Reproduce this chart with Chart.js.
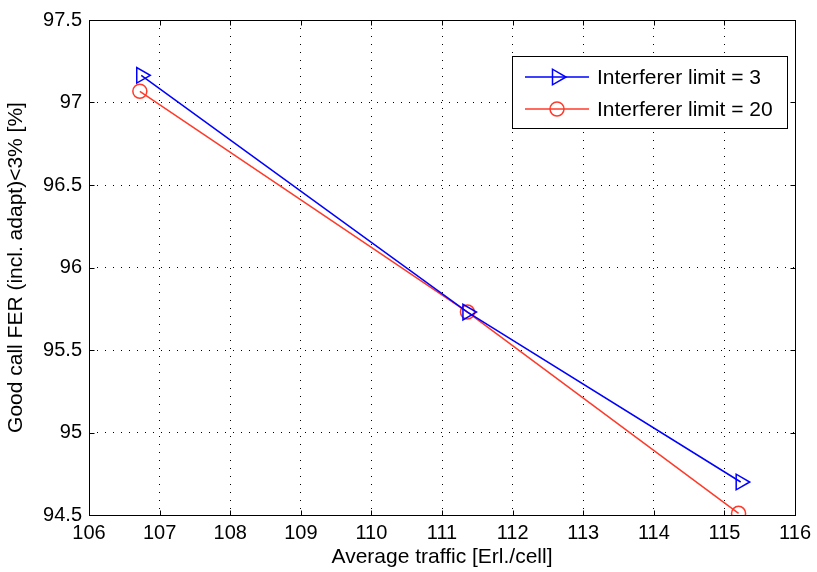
<!DOCTYPE html>
<html><head><meta charset="utf-8">
<script src="https://cdn.jsdelivr.net/npm/chart.js@4/dist/chart.umd.min.js"></script>
<style>html,body{margin:0;padding:0;background:#fff}#wrap{width:817px;height:572px}</style>
</head><body><div id="wrap"><canvas id="c" width="817" height="572"></canvas></div>
<script>
// ---- data ----
const trafficLimit3 = [106.74, 111.36, 115.23];
const goodCallLimit3 = [97.165, 95.73, 94.70];
const trafficLimit20 = [106.72, 111.36, 115.20];
const goodCallLimit20 = [97.068, 95.73, 94.51];
const seriesLabels = ['Interferer limit = 3', 'Interferer limit = 20'];
const xTickBounds = [106, 116];
const xTickStep = 1;
const yTickBounds = [94.5, 97.5];
const yTickStep = 0.5;
const xAxisTitle = 'Average traffic [Erl./cell]';
const yAxisTitle = 'Good call FER (incl. adapt)<3% [%]';

const FONT = '"Liberation Sans", Arial, Helvetica, sans-serif';
const BLUE = '#0000ff';
const RED = '#ff3a2a';

function pts(xs, ys) { return xs.map((x, i) => ({x: x, y: ys[i]})); }

function drawMarker(ctx, style, x, y, r, color, lw) {
  ctx.save();
  ctx.strokeStyle = color; ctx.lineWidth = lw;
  ctx.beginPath();
  if (style === 'circle') {
    ctx.arc(x, y, r, 0, Math.PI * 2);
  } else {
    let rad = Math.PI / 2;
    ctx.moveTo(x + Math.sin(rad) * r, y - Math.cos(rad) * r);
    rad += 2 * Math.PI / 3;
    ctx.lineTo(x + Math.sin(rad) * r, y - Math.cos(rad) * r);
    rad += 2 * Math.PI / 3;
    ctx.lineTo(x + Math.sin(rad) * r, y - Math.cos(rad) * r);
    ctx.closePath();
  }
  ctx.stroke();
  ctx.restore();
}

const framePlugin = {
  id: 'matlabFrame',
  afterDatasetsDraw(chart) {
    const ctx = chart.ctx;
    const a = chart.chartArea;
    const L = Math.round(a.left) + 0.5, R = Math.round(a.right) + 0.5;
    const T = Math.round(a.top) + 0.5, B = Math.round(a.bottom) + 0.5;
    ctx.save();
    ctx.strokeStyle = '#000';
    ctx.lineWidth = 1;
    ctx.strokeRect(L, T, R - L, B - T);
    const tl = 5;
    ctx.beginPath();
    const xs = chart.scales.x, ys = chart.scales.y;
    xs.ticks.forEach(t => {
      const px = Math.round(xs.getPixelForValue(t.value)) + 0.5;
      ctx.moveTo(px, B); ctx.lineTo(px, B - tl);
      ctx.moveTo(px, T); ctx.lineTo(px, T + tl);
    });
    ys.ticks.forEach(t => {
      const py = Math.round(ys.getPixelForValue(t.value)) + 0.5;
      ctx.moveTo(L, py); ctx.lineTo(L + tl, py);
      ctx.moveTo(R, py); ctx.lineTo(R - tl, py);
    });
    ctx.stroke();

    // legend box
    const bx = 512.5, by = 56.5, bw = 275, bh = 72;
    ctx.fillStyle = '#fff';
    ctx.fillRect(bx, by, bw, bh);
    ctx.strokeRect(bx, by, bw, bh);
    ctx.font = '21px ' + FONT;
    ctx.textBaseline = 'middle';
    ctx.textAlign = 'left';
    chart.data.datasets.forEach((ds, i) => {
      const cy = 77 + i * 32;
      ctx.strokeStyle = ds.borderColor;
      ctx.lineWidth = 1.5;
      ctx.beginPath();
      ctx.moveTo(525, cy); ctx.lineTo(589, cy);
      ctx.stroke();
      drawMarker(ctx, ds.pointStyle, 557, cy, ds.pointRadius, ds.borderColor, 1.5);
      ctx.fillStyle = '#000';
      ctx.fillText(ds.label, 597, cy + 1);
    });
    ctx.restore();
  }
};

const chart = new Chart(document.getElementById('c'), {
  type: 'line',
  data: {
    datasets: [
      {
        label: seriesLabels[0],
        data: pts(trafficLimit3, goodCallLimit3),
        borderColor: BLUE, backgroundColor: 'rgba(0,0,0,0)',
        borderWidth: 1.5, tension: 0, fill: false,
        pointStyle: 'triangle', pointRotation: 90, pointRadius: 9,
        pointBorderWidth: 1.5, pointBorderColor: BLUE, pointBackgroundColor: 'rgba(0,0,0,0)'
      },
      {
        label: seriesLabels[1],
        data: pts(trafficLimit20, goodCallLimit20),
        borderColor: RED, backgroundColor: 'rgba(0,0,0,0)',
        borderWidth: 1.5, tension: 0, fill: false,
        pointStyle: 'circle', pointRadius: 7,
        pointBorderWidth: 1.5, pointBorderColor: RED, pointBackgroundColor: 'rgba(0,0,0,0)'
      }
    ]
  },
  options: {
    responsive: false,
    animation: false,
    events: [],
    layout: { padding: { top: 20, right: 21, left: 0, bottom: 0 } },
    plugins: { legend: { display: false }, tooltip: { enabled: false } },
    scales: {
      x: {
        type: 'linear',
        min: xTickBounds[0], max: xTickBounds[1],
        ticks: { stepSize: xTickStep, color: '#000', padding: 6, font: { family: FONT, size: 20 }, maxRotation: 0,
                 callback: v => String(v) },
        grid: { color: '#000', lineWidth: 1, drawTicks: false },
        border: { display: false, dash: [1, 7] },
        title: { display: true, text: xAxisTitle, color: '#000', font: { family: FONT, size: 21 }, padding: { top: 0, bottom: 2 } },
        afterFit(s) { s.height = 57; }
      },
      y: {
        type: 'linear',
        min: yTickBounds[0], max: yTickBounds[1],
        ticks: { stepSize: yTickStep, color: '#000', padding: 7, font: { family: FONT, size: 20 },
                 callback: v => String(Math.round(v * 10) / 10) },
        grid: { color: '#000', lineWidth: 1, drawTicks: false },
        border: { display: false, dash: [1, 7] },
        title: { display: true, text: yAxisTitle, color: '#000', font: { family: FONT, size: 21 }, padding: { top: 4, bottom: 0 } },
        afterFit(s) { s.width = 89; }
      }
    }
  },
  plugins: [framePlugin]
});
</script></body></html>
